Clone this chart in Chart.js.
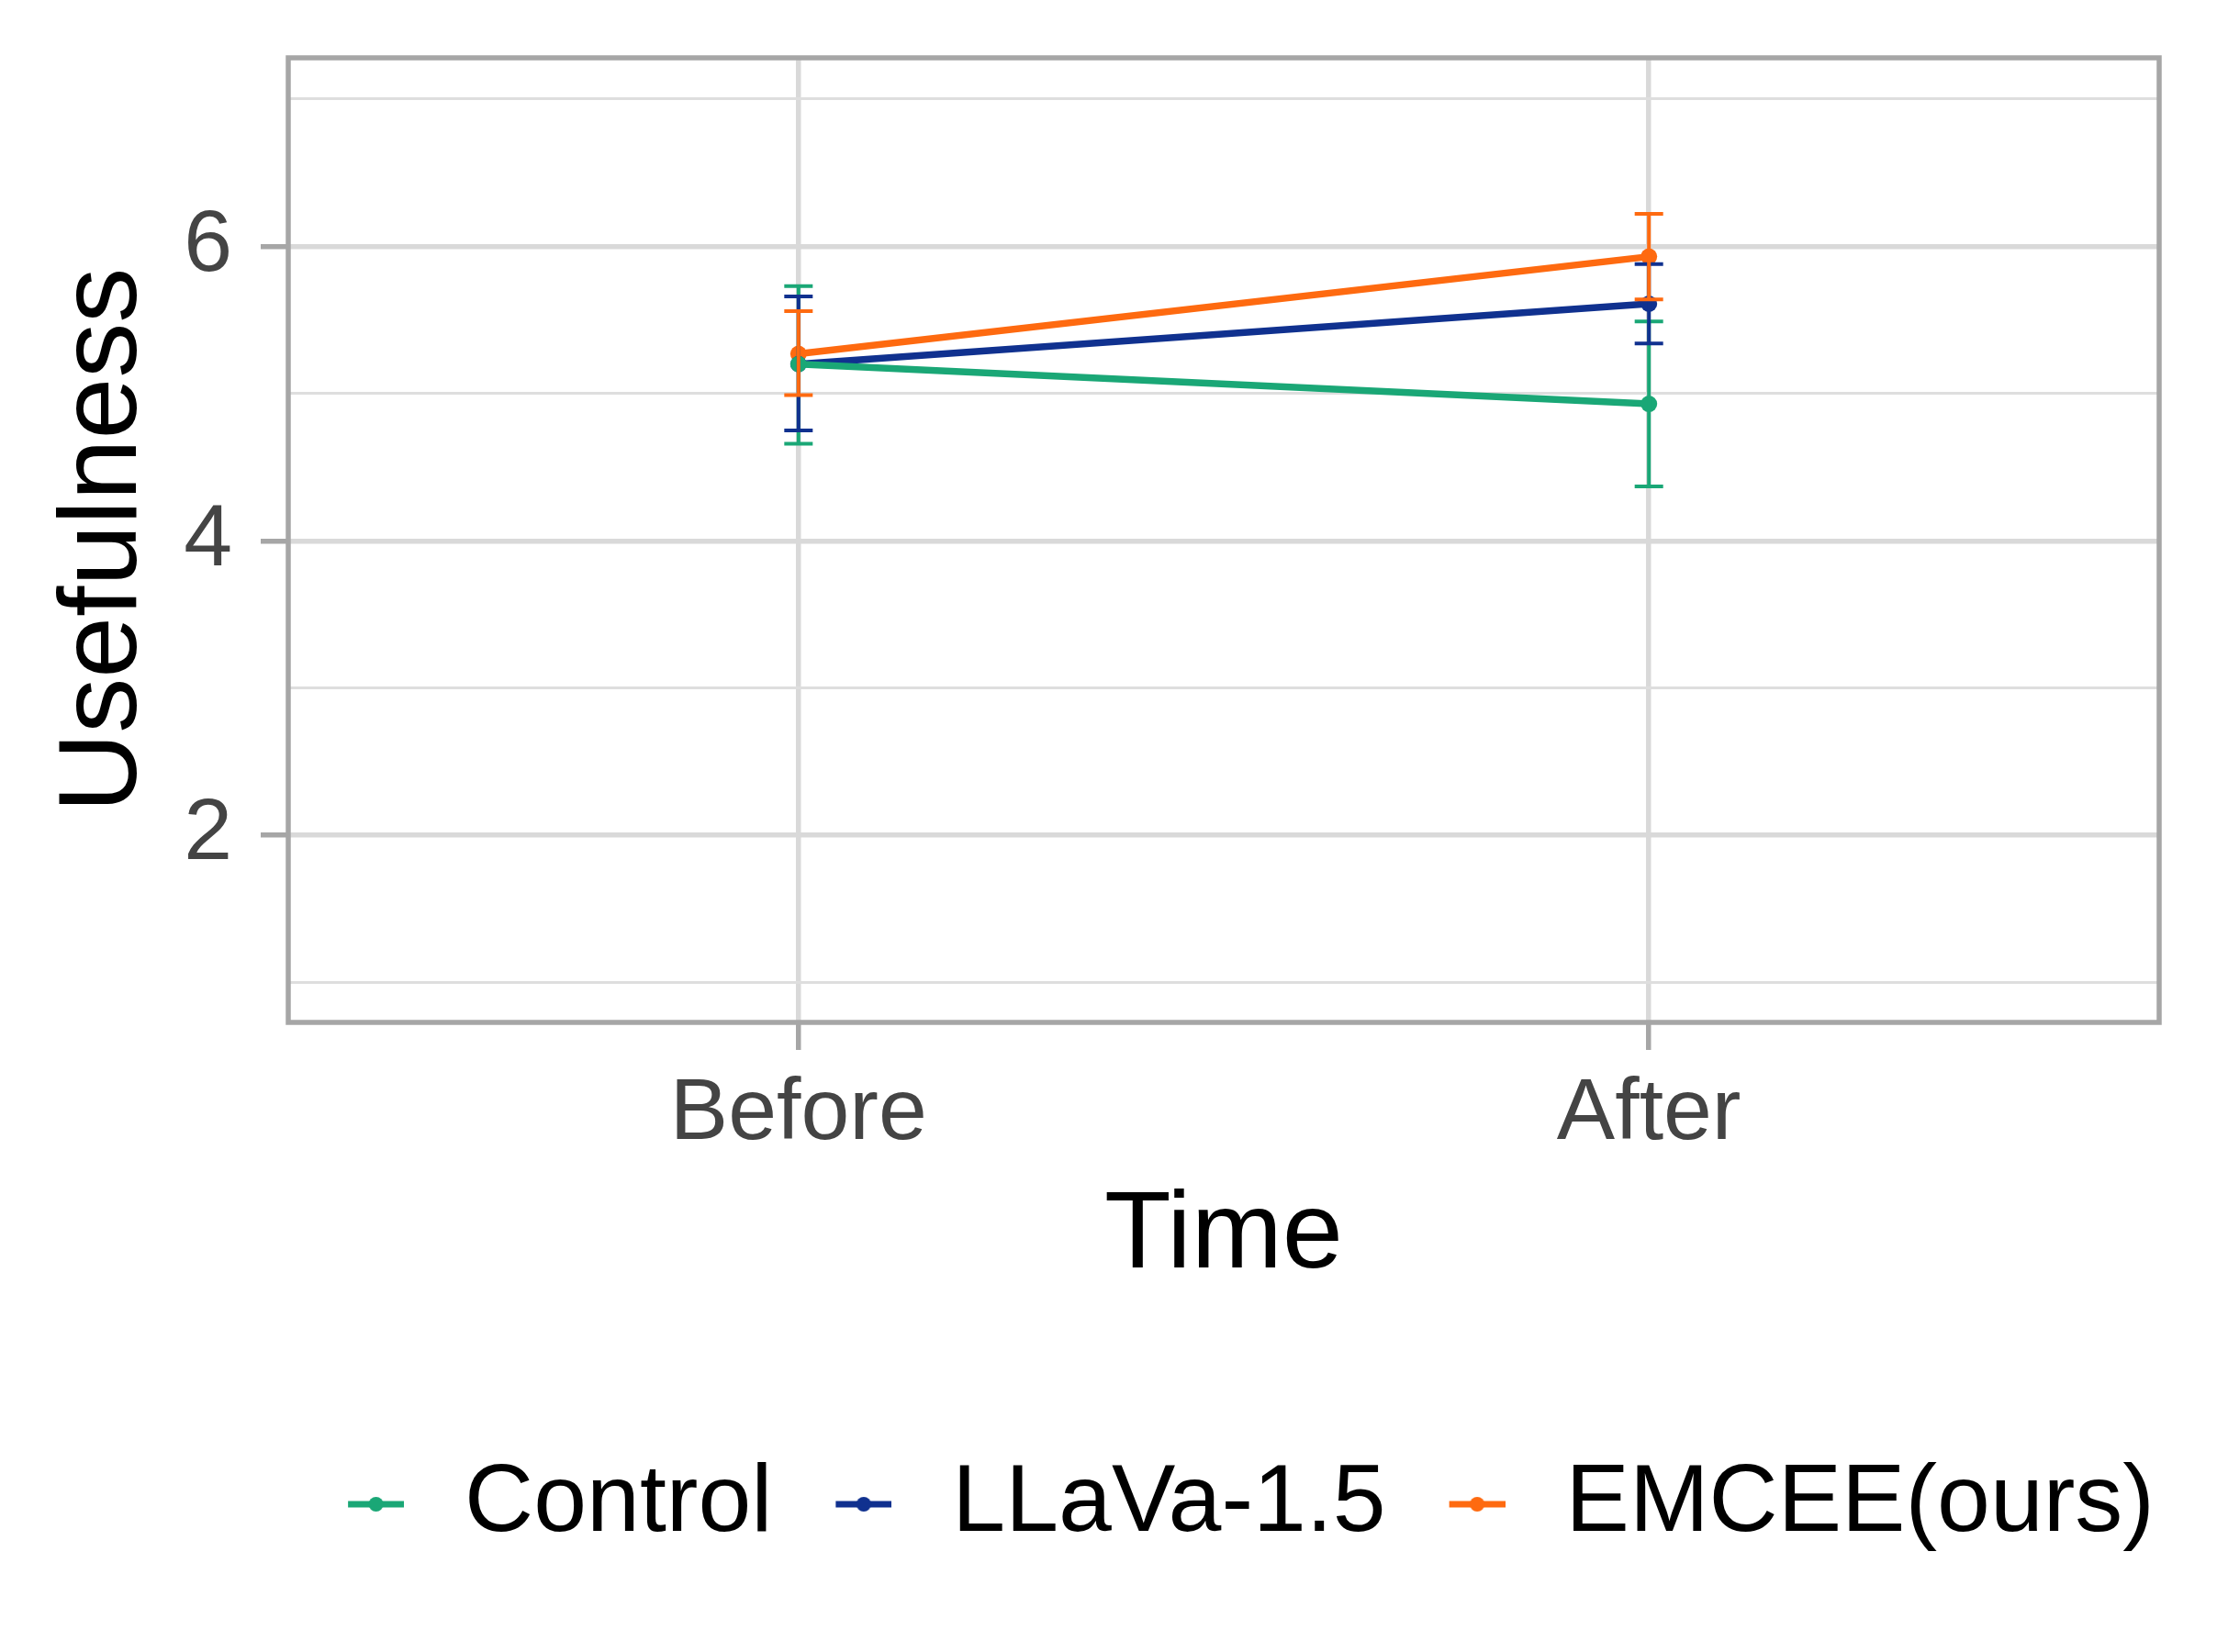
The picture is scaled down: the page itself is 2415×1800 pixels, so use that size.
<!DOCTYPE html>
<html>
<head>
<meta charset="utf-8">
<script src="https://cdn.jsdelivr.net/npm/chart.js@4"></script>
<style>
  html, body { margin: 0; padding: 0; background: #fff; }
  canvas { display: block; }
</style>
</head>
<body>
<canvas id="myChart" width="2415" height="1800"></canvas>
<script>
// data
const timeLabels = ['Before', 'After'];
const seriesNames = ['Control', 'LLaVa-1.5', 'EMCEE(ours)'];
const seriesColors = ['#1aa776', '#10318f', '#fe6a10'];

const controlMean = [5.20, 4.93];
const controlLow = [4.66, 4.37];
const controlHigh = [5.73, 5.49];

const llavaMean = [5.20, 5.61];
const llavaLow = [4.75, 5.34];
const llavaHigh = [5.66, 5.88];

const emceeMean = [5.27, 5.93];
const emceeLow = [4.99, 5.64];
const emceeHigh = [5.56, 6.22];

const yTicks = [1, 2, 3, 4, 5, 6, 7];

const means = [controlMean, llavaMean, emceeMean];
const lows = [controlLow, llavaLow, emceeLow];
const highs = [controlHigh, llavaHigh, emceeHigh];

Chart.defaults.font.family = '"Liberation Sans", Arial, Helvetica, sans-serif';
Chart.defaults.color = '#444444';

// legend key: short line with a dot, sitting at the right of a blank lead-in
function legendKey(color) {
    const c = document.createElement('canvas');
    c.width = 111;
    c.height = 20;
    const g = c.getContext('2d');
    g.strokeStyle = color;
    g.lineWidth = 7;
    g.beginPath();
    g.moveTo(50, 10);
    g.lineTo(111, 10);
    g.stroke();
    g.fillStyle = color;
    g.beginPath();
    g.arc(80.5, 10, 8, 0, Math.PI * 2);
    g.fill();
    return c;
}

// ggplot-like error bars, drawn through the chart's scales
const errorBars = {
    id: 'errorBars',
    afterDatasetsDraw(chart) {
        const ctx = chart.ctx;
        const xs = chart.scales.x;
        const ys = chart.scales.y;
        ctx.save();
        ctx.lineWidth = 4;
        means.forEach((m, s) => {
            ctx.strokeStyle = seriesColors[s];
            m.forEach((v, i) => {
                const x = xs.getPixelForValue(i);
                const y1 = ys.getPixelForValue(lows[s][i]);
                const y2 = ys.getPixelForValue(highs[s][i]);
                ctx.beginPath();
                ctx.moveTo(x, y1);
                ctx.lineTo(x, y2);
                ctx.moveTo(x - 15.5, y1);
                ctx.lineTo(x + 15.5, y1);
                ctx.moveTo(x - 15.5, y2);
                ctx.lineTo(x + 15.5, y2);
                ctx.stroke();
            });
        });
        ctx.restore();
    }
};

// panel frame on all four sides
const panelBorder = {
    id: 'panelBorder',
    afterDraw(chart) {
        const a = chart.chartArea;
        const ctx = chart.ctx;
        ctx.save();
        ctx.strokeStyle = '#a6a6a6';
        ctx.lineWidth = 5.5;
        ctx.strokeRect(a.left, a.top, a.right - a.left, a.bottom - a.top);
        ctx.restore();
    }
};

const ctx = document.getElementById('myChart');

new Chart(ctx, {
    type: 'line',
    data: {
        datasets: means.map((m, s) => ({
            label: seriesNames[s],
            data: m.map((v, i) => ({ x: i, y: v })),
            borderColor: seriesColors[s],
            backgroundColor: seriesColors[s],
            pointBackgroundColor: seriesColors[s],
            pointBorderWidth: 0,
            pointRadius: 9,
            borderWidth: 7.5,
            tension: 0,
            fill: false,
            pointStyle: 'circle'
        }))
    },
    options: {
        responsive: false,
        devicePixelRatio: 1,
        animation: false,
        layout: {
            padding: { top: 63, right: 63, left: 0, bottom: 99 }
        },
        plugins: {
            legend: {
                position: 'bottom',
                align: 'end',
                labels: {
                    usePointStyle: true,
                    pointStyleWidth: 139,
                    padding: 5,
                    color: '#000',
                    font: { size: 104 },
                    generateLabels: (chart) => seriesNames.map((n, s) => ({
                        text: n,
                        pointStyle: legendKey(seriesColors[s]),
                        fillStyle: seriesColors[s],
                        strokeStyle: seriesColors[s],
                        lineWidth: 0,
                        datasetIndex: s,
                        fontColor: '#000'
                    }))
                }
            },
            tooltip: { enabled: false }
        },
        scales: {
            x: {
                type: 'linear',
                min: -0.6,
                max: 1.6,
                afterBuildTicks: (scale) => {
                    scale.ticks = timeLabels.map((t, i) => ({ value: i }));
                },
                afterFit: (scale) => {
                    scale.height = 468;
                    scale.paddingLeft = 0;
                    scale.paddingRight = 0;
                },
                ticks: {
                    callback: (v) => timeLabels[v],
                    font: { size: 95 },
                    color: '#444444',
                    padding: 14,
                    autoSkip: false,
                    maxRotation: 0
                },
                grid: {
                    color: '#d9d9d9',
                    lineWidth: 5.5,
                    tickLength: 30,
                    tickColor: '#a6a6a6',
                    tickWidth: 5.5
                },
                border: { display: false },
                title: {
                    display: true,
                    text: 'Time',
                    color: '#000',
                    font: { size: 119 },
                    padding: { top: 0, bottom: 162 }
                }
            },
            y: {
                min: 0.73,
                max: 7.28,
                afterBuildTicks: (scale) => {
                    scale.ticks = yTicks.map(v => ({ value: v }));
                },
                afterFit: (scale) => {
                    scale.width = 314;
                    scale.paddingTop = 0;
                    scale.paddingBottom = 0;
                },
                ticks: {
                    callback: (v) => (v % 2 === 0 ? String(v) : ''),
                    font: { size: 95 },
                    color: '#444444',
                    padding: 31,
                    autoSkip: false
                },
                grid: {
                    color: (c) => (c.tick && c.tick.value % 2 === 0 ? '#d9d9d9' : '#dedede'),
                    lineWidth: (c) => (c.tick && c.tick.value % 2 === 0 ? 5.5 : 3),
                    tickLength: 30,
                    tickColor: (c) => (c.tick && c.tick.value % 2 === 0 ? '#a6a6a6' : 'rgba(0,0,0,0)'),
                    tickWidth: 5.5
                },
                border: { display: false },
                title: {
                    display: true,
                    text: 'Usefulness',
                    color: '#000',
                    font: { size: 120 },
                    padding: { top: 43, bottom: 0 }
                }
            }
        }
    },
    plugins: [errorBars, panelBorder]
});
</script>
</body>
</html>
